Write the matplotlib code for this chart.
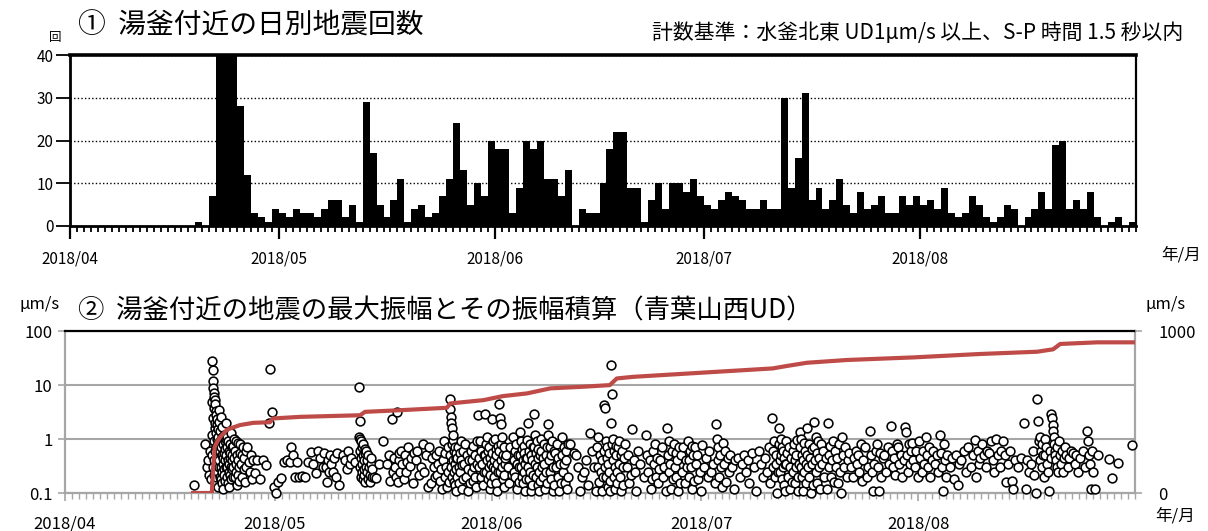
import numpy as np
import pandas as pd
import matplotlib
matplotlib.use('Agg')
import matplotlib.pyplot as plt

plt.rcParams['font.family'] = ['Noto Sans CJK JP', 'DejaVu Sans']

# 期間 2018/04/01 - 2018/08/31
start = pd.Timestamp('2018-04-01')
end = pd.Timestamp('2018-09-01')
n_days = (end - start).days

month_starts = pd.date_range('2018-04-01', '2018-08-01', freq='MS')
month_pos = (month_starts - start).days
month_labels = [d.strftime('%Y/%m') for d in month_starts]

# ① 日別地震回数 (40以上はグラフ上端で切れている)
daily_count = [0] * 18 + [
    1, 0, 7, 40, 40, 40, 28, 12, 3, 2, 1, 4,              # 04/19-04/30
    3, 2, 4, 3, 3, 2, 4, 6, 6, 2, 5, 1, 29, 17, 5, 2,     # 05/01-
    6, 11, 1, 4, 5, 2, 3, 7, 11, 24, 13, 5, 10, 7, 20,    # -05/31
    18, 18, 3, 9, 20, 18, 20, 11, 11, 7, 13, 0, 4, 3, 3,  # 06/01-
    10, 18, 22, 22, 9, 9, 1, 6, 10, 4, 10, 10, 8, 11, 7,  # -06/30
    5, 4, 6, 8, 7, 6, 4, 4, 6, 4, 4, 30, 9, 16, 31, 6,    # 07/01-
    9, 4, 6, 11, 5, 3, 8, 4, 5, 7, 3, 3, 7, 5, 7,         # -07/31
    5, 6, 4, 9, 3, 2, 3, 7, 5, 2, 1, 2, 5, 4, 0, 2,       # 08/01-
    4, 8, 4, 19, 20, 4, 6, 4, 8, 2, 0, 1, 2, 0, 1,        # -08/31
]

# ② 最大振幅 (μm/s)  日番号(04/01=0) -> その日の地震の振幅
amp_by_day = {
    18: [0.14],
    20: [0.8, 0.3, 0.4, 0.22, 0.6, 0.18],
    21: [0.5, 1.2, 28, 4.8, 19, 0.3, 12, 2.5, 8.7, 0.22, 7.2, 0.9, 6.0, 3.8, 0.4, 5.2,
         1.6, 0.16, 4.4, 2.0, 0.6, 3.3, 0.28, 1.3, 2.8, 0.7, 0.2, 1.9, 1.0, 0.35, 2.3,
         0.5, 0.13, 1.5, 0.8, 0.25, 1.1, 0.45, 0.6, 0.3],
    22: [3.5, 0.4, 2.1, 0.9, 0.2, 1.4, 0.6, 0.3, 2.6, 0.18, 0.7, 1.1, 0.25, 0.5, 1.7,
         0.15, 0.35, 0.8, 0.45, 0.12, 1.2, 0.28, 0.55, 0.22, 0.9, 0.4, 0.17, 0.65, 0.3, 1.0],
    23: [2.0, 0.5, 0.3, 1.1, 0.2, 0.7, 0.4, 0.15, 0.9, 0.25, 0.6, 0.35, 0.13, 0.8, 0.45,
         0.22, 0.55, 0.3, 1.3, 0.18, 0.4, 0.28, 0.7, 0.5, 0.2],
    24: [0.75, 0.3, 1.0, 0.45, 0.2, 0.6, 0.25, 0.9, 0.35, 0.14, 0.5, 0.4, 0.22, 0.85, 0.3,
         0.17, 0.55],
    25: [0.8, 0.35, 0.5, 0.2, 0.7, 0.28, 0.45, 0.16, 0.6, 0.3],
    26: [0.72, 0.38, 0.25, 0.5, 0.18, 0.4],
    27: [0.23, 0.4, 0.18],
    28: [0.4, 0.33],
    29: [2.0, 20.0, 3.1, 0.13],
    30: [0.1, 0.16, 0.19],
    31: [0.37, 0.4],
    32: [0.38, 0.72, 0.5, 0.2],
    33: [0.38, 0.2, 0.21],
    34: [0.2, 0.37],
    35: [0.58, 0.35, 0.23],
    36: [0.6, 0.45, 0.3],
    37: [0.55, 0.3, 0.16, 0.4, 0.25, 0.5],
    38: [0.35, 0.25, 0.45, 0.2, 0.55],
    39: [0.14, 0.5],
    40: [0.4, 0.28, 0.6, 0.35, 0.45],
    41: [0.38],
    42: [9.2, 1.1, 0.3, 2.2, 0.6, 1.0, 0.2, 0.45, 0.9, 0.25, 0.7, 0.35, 0.18, 0.5, 0.8,
         0.22, 0.4, 0.28, 0.65, 0.16, 0.55, 0.3],
    43: [0.6, 0.25, 0.4, 0.18, 0.5, 0.3, 0.22, 0.16, 0.35, 0.45, 0.2, 0.28],
    44: [0.2, 0.19, 0.35],
    45: [0.9],
    46: [0.35, 0.5, 0.17, 2.3, 0.25],
    47: [0.45, 0.3, 0.2, 3.1, 0.16, 0.4, 0.55, 0.25],
    48: [0.6, 0.35, 0.18, 0.5, 0.25, 0.38],
    49: [0.7, 0.32, 0.45, 0.15, 0.55],
    50: [0.4, 0.6, 0.22, 0.3],
    51: [0.8, 0.25, 0.5, 0.13],
    52: [0.7, 0.15, 0.45, 0.3, 0.2],
    53: [0.5, 0.22, 0.35, 0.6, 0.17, 0.28, 0.12],
    54: [0.4, 0.9, 0.2, 0.55, 0.3, 0.13, 0.7, 0.25, 0.16],
    55: [5.6, 3.6, 0.5, 2.6, 0.3, 2.0, 0.8, 1.6, 0.2, 0.95, 0.4, 1.2, 0.16, 0.6, 0.25,
         0.7, 0.35, 0.14, 0.45, 0.11, 0.28, 0.55],
    56: [0.45, 0.2, 0.7, 0.3, 0.15, 0.55, 0.25, 0.9, 0.4, 0.12, 0.33, 0.18, 0.6],
    57: [0.35, 0.8, 0.2, 0.5, 0.28, 0.11, 0.4, 0.15],
    58: [0.6, 0.25, 0.4, 0.17, 0.75, 0.3, 0.5, 0.2, 0.13, 0.35, 0.9],
    59: [2.8, 0.45, 0.3, 0.9, 0.2, 0.6, 0.35, 0.14, 0.25, 0.5],
    60: [2.9, 0.5, 0.25, 0.8, 0.4, 1.1, 0.18, 0.6, 0.3, 0.7, 0.22, 0.45, 0.12, 0.35, 0.15],
    61: [2.3, 0.55, 0.3, 0.9, 0.2, 0.4, 1.0, 0.28, 0.65, 0.15, 0.5, 0.35, 0.11, 0.75, 0.24],
    62: [4.4, 0.6, 0.25, 2.4, 0.4, 0.8, 1.9, 0.3, 1.1, 0.18, 0.5, 0.7, 0.22, 0.13, 0.35,
         0.45],
    63: [0.5, 0.3, 0.15, 0.7, 0.22],
    64: [1.1, 0.4, 0.25, 0.6, 0.2, 0.8, 0.35, 0.12, 0.5, 0.16, 0.3],
    65: [1.35, 0.5, 0.3, 0.9, 0.2, 0.65, 0.4, 0.15, 0.75, 0.25, 0.55, 0.35, 0.11, 0.45,
         0.18],
    66: [0.95, 0.45, 2.0, 0.3, 0.6, 0.18, 0.8, 0.25, 0.5, 0.11, 0.4, 0.14, 0.7, 0.22],
    67: [2.9, 0.7, 0.35, 1.2, 0.2, 0.55, 0.9, 0.3, 0.45, 0.14, 0.65, 0.25, 0.11, 0.5,
         0.17],
    68: [0.6, 1.0, 0.3, 0.45, 0.2, 0.8, 0.35, 0.12, 0.5, 0.25, 0.15, 0.7],
    69: [1.9, 1.2, 0.4, 0.7, 0.25, 0.5, 0.18, 0.9, 0.3, 0.11, 0.6, 0.14],
    70: [0.55, 0.3, 0.8, 0.2, 0.45, 0.11, 0.35, 0.15],
    71: [1.1, 0.5, 0.25, 0.7, 0.35, 0.15, 0.6, 0.4, 0.12, 0.2, 0.8],
    72: [0.8, 0.55],
    73: [0.5, 0.3, 0.11, 0.2],
    74: [0.25, 0.4, 0.14],
    75: [1.3, 0.6, 0.3, 0.11],
    76: [0.7, 0.3, 1.1, 0.16, 0.5, 0.25, 0.11, 0.4, 0.2],
    77: [4.2, 0.6, 3.8, 0.3, 0.9, 0.2, 0.45, 0.7, 0.13, 0.35, 0.55, 0.25, 0.11, 0.17],
    78: [2.0, 23.5, 6.9, 0.8, 0.4, 1.0, 0.2, 0.6, 0.3, 0.12, 0.5, 0.75, 0.15, 0.25],
    79: [0.7, 0.35, 0.9, 0.2, 0.5, 0.11, 0.6, 0.3, 0.14, 0.45],
    80: [0.8, 0.3, 0.5, 0.15, 0.22],
    81: [1.5, 0.4, 0.25, 0.11, 0.6],
    82: [0.35, 0.2],
    83: [1.2, 0.5, 0.25, 0.4, 0.12, 0.18],
    84: [0.6, 0.35, 0.8, 0.2, 0.45, 0.15, 0.28],
    85: [0.4, 0.7, 0.2, 0.3, 0.11],
    86: [1.6, 0.5, 0.25, 0.9, 0.35, 0.12, 0.6, 0.18],
    87: [0.8, 0.3, 0.55, 0.2, 0.4, 0.11, 0.7, 0.15],
    88: [0.5, 0.25, 0.7, 0.15, 0.4, 0.3],
    89: [0.9, 0.4, 0.2, 0.6, 0.3, 0.12, 0.75, 0.5, 0.17],
    90: [0.7, 0.35, 0.5, 0.18, 0.25, 0.11],
    91: [0.77, 0.3, 0.45, 0.2],
    92: [0.6, 0.25, 0.35, 0.15],
    93: [1.9, 1.0, 0.4, 0.7, 0.2, 0.5, 0.3, 0.13],
    94: [0.85, 0.35, 0.6, 0.16, 0.45, 0.25],
    95: [0.5, 0.3, 0.12, 0.4],
    96: [0.45, 0.2, 0.35],
    97: [0.5, 0.25, 0.4, 0.15],
    98: [0.55, 0.3, 0.11],
    99: [0.6, 0.35, 0.2],
    100: [0.45, 0.25, 0.7, 0.15],
    101: [2.5, 0.6, 0.3, 0.9, 0.2, 0.5, 0.35, 0.1, 0.25],
    102: [1.6, 0.8, 0.4, 0.25, 1.0, 0.5, 0.18, 0.7, 0.3, 0.6, 0.14, 0.45, 0.11, 0.35],
    103: [0.9, 0.35, 0.55, 0.2, 0.7, 0.3, 0.12, 0.45, 0.16],
    104: [0.6, 0.25, 0.8, 0.4, 0.15, 0.5, 0.3, 0.95, 0.2, 0.11, 0.35],
    105: [1.35, 0.7, 0.3, 1.0, 0.2, 0.5, 0.4, 0.11, 0.85, 0.25, 0.6, 0.15, 0.35],
    106: [1.6, 0.5, 0.3, 0.8, 0.2, 0.45, 0.1, 0.65, 0.35, 0.14],
    107: [2.1, 0.7, 0.4, 1.1, 0.25, 0.55, 0.15, 0.9, 0.3, 0.45, 0.12],
    108: [0.8, 0.35, 0.6, 0.2, 0.45, 0.12],
    109: [2.0, 0.5, 0.3, 0.75, 0.2, 0.4, 0.9, 0.16],
    110: [0.6, 0.3, 0.45, 0.15, 0.8, 0.25, 0.1],
    111: [1.1, 0.5, 0.3, 0.7, 0.2, 0.4],
    112: [0.55, 0.3, 0.2, 0.45],
    113: [0.6, 0.35, 0.5, 0.25, 0.8, 0.17],
    114: [0.4, 0.7, 0.2, 0.3],
    115: [1.4, 0.5, 0.25, 0.11, 0.35, 0.6],
    116: [0.8, 0.3, 0.11, 0.55, 0.2, 0.45],
    117: [0.5, 0.25, 0.7, 0.35],
    118: [1.75, 0.6, 0.3, 0.45, 0.22, 0.8],
    119: [0.7, 0.35, 0.5, 0.2, 0.4],
    120: [1.7, 1.35, 0.5, 0.25, 0.8, 0.35, 0.6],
    121: [0.85, 0.4, 0.3, 0.6, 0.2],
    122: [0.9, 0.45, 0.25, 0.6, 0.35],
    123: [1.1, 0.5, 0.3, 0.7, 0.2, 0.4],
    124: [0.6, 0.35, 0.5, 0.25],
    125: [1.2, 0.55, 0.3, 0.11, 0.8, 0.4, 0.2],
    126: [0.5, 0.3, 0.45],
    127: [0.18, 0.5, 0.14, 0.35],
    128: [0.4, 0.6, 0.25],
    129: [0.7, 0.3, 0.5],
    130: [0.95, 0.2, 0.6, 0.35, 0.45],
    131: [0.8, 0.5, 0.3, 0.6],
    132: [0.55, 0.9, 0.4, 0.25],
    133: [0.98, 0.5, 0.3, 0.6],
    134: [0.92, 0.5, 0.16, 0.35],
    135: [0.6, 0.17, 0.12, 0.4],
    136: [0.3, 0.45],
    137: [1.95, 0.12, 0.4, 0.25],
    138: [0.35, 0.6, 0.22, 0.1],
    139: [5.4, 2.2, 0.9, 0.4, 1.1, 0.6, 0.3, 0.8, 0.5, 0.2],
    140: [1.0, 0.5, 0.7, 0.35, 0.25, 0.11, 0.6, 0.45],
    141: [2.9, 2.4, 1.8, 1.4, 1.1, 0.8, 0.6, 0.5, 0.4, 0.3, 0.7, 0.25],
    142: [0.9, 0.5, 0.35, 0.6, 0.25, 0.45, 0.7],
    143: [0.5, 0.3, 0.45, 0.6],
    144: [0.55, 0.35, 0.5, 0.25],
    145: [0.45, 0.6, 0.3],
    146: [1.4, 0.9, 0.5, 0.35, 0.12, 0.6, 0.25],
    147: [0.12, 0.5],
    149: [0.42, 0.19],
    150: [0.36],
    152: [0.78],
}

# 振幅積算 (右軸, μm/s)
cum_day = [18.3, 21.0, 21.2, 21.4, 21.8, 22.2, 23.2, 25.0, 26.9, 29.3, 29.7, 33.6,
           42.2, 42.9, 47.9, 54.6, 55.1, 59.8, 62.6, 66.1, 69.4, 74.1, 77.9, 78.9,
           81.2, 90.8, 101.2, 103.2, 106.1, 111.8, 121.3, 130.8, 139.0, 141.3,
           142.3, 147.6, 153.0]
cum_val = [0, 0, 161, 284, 320, 346, 392, 419, 433, 437, 460, 470,
           480, 501, 511, 526, 553, 573, 598, 615, 646, 656, 666, 707,
           717, 742, 769, 784, 804, 821, 837, 858, 872, 887,
           920, 930, 930]

# 日内の地震は等間隔に並べる
sc_x, sc_y = [], []
for day, vals in amp_by_day.items():
    n = len(vals)
    for k, v in enumerate(vals):
        sc_x.append(day + (k + 0.5) / n)
        sc_y.append(v)

W, H = 1208, 531
fig = plt.figure(figsize=(W / 100, H / 100), dpi=100)


def fx(x):
    return x / W


def fy(y):
    return 1 - y / H


# ---------- ① ----------
ax1 = fig.add_axes([fx(70), fy(226), fx(1136 - 70), (226 - 55) / H])
ax1.bar(np.arange(n_days), daily_count, width=1.0, align='edge',
        color='black', linewidth=0, zorder=2)
ax1.set_xlim(0, n_days)
ax1.set_ylim(0, 40)
ax1.set_yticks([0, 10, 20, 30, 40])
ax1.yaxis.grid(True, linestyle=(0, (1, 1.6)), color='black', linewidth=1.0, zorder=1)
ax1.set_axisbelow(True)
ax1.set_xticks(month_pos)
ax1.set_xticklabels(month_labels)
ax1.set_xticks(np.arange(n_days + 1), minor=True)
ax1.tick_params(axis='x', which='major', length=9, width=1.6, pad=9, labelsize=11)
ax1.tick_params(axis='x', which='minor', length=4, width=1.3)
ax1.tick_params(axis='y', length=10, width=1.3, pad=2, labelsize=11)
for side, lw in [('top', 2.6), ('left', 2.0), ('right', 1.6), ('bottom', 2.0)]:
    ax1.spines[side].set_linewidth(lw)

fig.text(fx(78), fy(26), '①  湯釜付近の日別地震回数', fontsize=20,
         ha='left', va='center')
fig.text(fx(1183), fy(33), '計数基準：水釜北東 UD1μm/s 以上、S-P 時間 1.5 秒以内',
         fontsize=15, ha='right', va='center')
fig.text(fx(55), fy(37), '回', fontsize=9, ha='center', va='center')
fig.text(fx(1181), fy(255), '年/月', fontsize=12, ha='center', va='center')

# ---------- ② ----------
ax2 = fig.add_axes([fx(65), fy(493), fx(1135 - 65), (493 - 331) / H])
ax2.scatter(sc_x, sc_y, s=40, facecolors='white', edgecolors='black',
            linewidths=1.15, zorder=3, clip_on=False)
ax2.set_yscale('log')
ax2.set_ylim(0.1, 100)
ax2.set_xlim(0, n_days)
ax2.set_yticks([0.1, 1, 10, 100])
ax2.set_yticklabels(['0.1', '1', '10', '100'])
ax2.minorticks_off()
ax2.yaxis.grid(True, color='#a6a6a6', linewidth=1.5, zorder=0)
ax2.set_axisbelow(True)
ax2.set_xticks(month_pos)
ax2.set_xticklabels(month_labels)
ax2.set_xticks(np.arange(n_days + 1), minor=True)
ax2.tick_params(axis='x', which='major', length=6, width=1.2, color='#a6a6a6',
                pad=10, labelsize=12)
ax2.tick_params(axis='x', which='minor', length=4, width=1.0, color='#a6a6a6')
ax2.tick_params(axis='y', length=5, width=1.2, color='#a6a6a6', pad=4, labelsize=12)
for side in ['left', 'right', 'bottom']:
    ax2.spines[side].set_color('#a6a6a6')
    ax2.spines[side].set_linewidth(1.6)
ax2.spines['top'].set_linewidth(1.6)

ax3 = ax2.twinx()
ax3.plot(cum_day, cum_val, color='#be4b48', linewidth=3.0, zorder=4)
ax3.set_ylim(0, 1000)
ax3.set_yticks([0, 1000])
ax3.tick_params(axis='y', length=5, width=1.2, color='#a6a6a6', pad=12, labelsize=12)
for side in ['left', 'right', 'bottom', 'top']:
    ax3.spines[side].set_visible(False)

fig.text(fx(78), fy(311), '②  湯釜付近の地震の最大振幅とその振幅積算（青葉山西UD）',
         fontsize=19, ha='left', va='center')
fig.text(fx(40), fy(304), 'μm/s', fontsize=12, ha='center', va='center')
fig.text(fx(1166), fy(304), 'μm/s', fontsize=12, ha='center', va='center')
fig.text(fx(1175), fy(516), '年/月', fontsize=12, ha='center', va='center')

fig.savefig('out.png', dpi=100)
